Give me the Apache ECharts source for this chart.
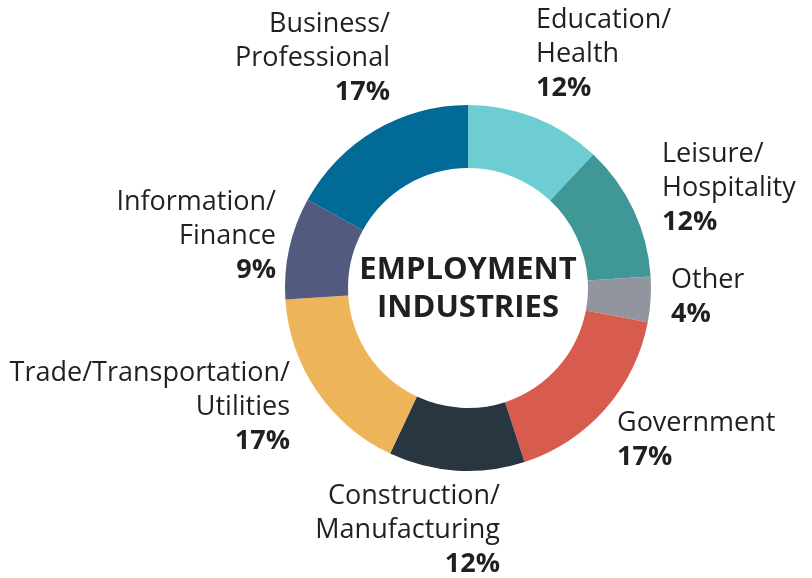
<!DOCTYPE html>
<html>
<head>
<meta charset="utf-8">
<script src="https://cdn.jsdelivr.net/npm/echarts@6/dist/echarts.min.js"></script>
<style>
  html, body { margin: 0; padding: 0; background: #fff; }
  #chart { width: 812px; height: 578px; }
</style>
</head>
<body>
<div id="chart"></div>
<script>
// data
const industries = ['Education/\nHealth', 'Leisure/\nHospitality', 'Other', 'Government',
  'Construction/\nManufacturing', 'Trade/Transportation/\nUtilities', 'Information/\nFinance',
  'Business/\nProfessional'];
const shares = [12, 12, 4, 17, 12, 17, 9, 17];
const colors = ['#6ecdd2', '#3f9896', '#92959e', '#d85c4d', '#283642', '#eeb459', '#525a80', '#026a96'];

// where each label block sits (anchor x, middle y, alignment)
const labelSpots = [
  [536, 54, 'left'], [662, 188, 'left'], [671, 297, 'left'], [617, 440, 'left'],
  [500, 530, 'right'], [290, 407, 'right'], [276, 236, 'right'], [390, 58, 'right']
];

const textColor = '#231f20';
const font = '"Open Sans", "Noto Sans", sans-serif';

const getOption = () => {
  return {
    animation: false,
    graphic: [{
      type: 'text',
      x: 468,
      y: 289,
      style: {
        text: 'EMPLOYMENT\nINDUSTRIES',
        align: 'center',
        verticalAlign: 'middle',
        font: 'bold 31px ' + font,
        lineHeight: 38,
        fill: textColor
      }
    }],
    series: [{
      type: 'pie',
      center: [468, 288],
      radius: [120, 183],
      startAngle: 90,
      clockwise: true,
      avoidLabelOverlap: false,
      itemStyle: { borderWidth: 0 },
      label: {
        show: true,
        position: 'outside',
        formatter: p => '{n|' + p.name.split('\n').join('}\n{n|') + '}\n{v|' + p.value + '%}',
        rich: {
          n: { fontFamily: font, fontSize: 27, color: textColor, lineHeight: 34 },
          v: { fontFamily: font, fontSize: 27, fontWeight: 'bold', color: textColor, lineHeight: 34 }
        }
      },
      labelLine: { show: false },
      labelLayout: params => {
        const s = labelSpots[params.dataIndex];
        return { x: s[0], y: s[1], align: s[2], verticalAlign: 'middle' };
      },
      emphasis: { disabled: true },
      data: industries.map((name, i) => ({
        name: name,
        value: shares[i],
        itemStyle: { color: colors[i] }
      }))
    }]
  };
};

const chart = echarts.init(document.getElementById('chart'));
chart.setOption(getOption());
</script>
</body>
</html>
